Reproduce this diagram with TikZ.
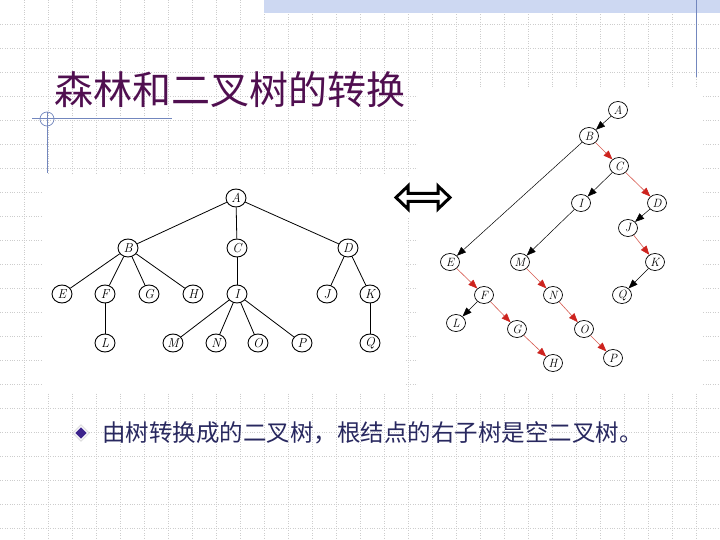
\documentclass[tikz,border=0pt]{standalone}
\usepackage{fontspec}
\newfontfamily\cjk{Noto Sans CJK SC}
\usetikzlibrary{arrows.meta,shapes.geometric}
\definecolor{gridc}{RGB}{205,205,205}
\definecolor{bandc}{RGB}{205,216,242}
\definecolor{decoc}{RGB}{115,135,190}
\definecolor{titlec}{RGB}{80,15,80}
\definecolor{textc}{RGB}{40,40,95}
\definecolor{redl}{RGB}{215,90,80}
\definecolor{redh}{RGB}{205,35,30}
\definecolor{bulc}{RGB}{60,35,140}
\tikzset{
  lnode/.style={draw, ellipse, minimum width=20pt, minimum height=18pt, inner sep=0pt, line width=0.9pt, fill=white, font=\fontsize{13}{13}\selectfont\itshape},
  rnode/.style={draw, ellipse, minimum width=19pt, minimum height=17pt, inner sep=0pt, line width=0.7pt, fill=white, font=\fontsize{12}{12}\selectfont\itshape},
  ledge/.style={line width=0.8pt},
  blk/.style={line width=0.5pt, -{Triangle[length=9pt,width=7pt]}},
  red/.style={draw=redl, line width=0.6pt, -{Triangle[length=9pt,width=7pt,fill=redh,color=redh]}},
  gridline/.style={gridc, line width=0.6pt, dash pattern=on 1pt off 1.4pt},
}
\begin{document}
\begin{tikzpicture}[x=1pt,y=-1pt]
\useasboundingbox (0,0) rectangle (720,540);
\fill[white] (0,0) rectangle (720,540);
% grid
\foreach \i in {24,48,...,696} {\draw[gridline] (\i,0) -- (\i,540);}
\foreach \j in {24,48,...,528} {\draw[gridline] (0,\j) -- (720,\j);}
% top band and decorations
\fill[bandc] (264,0) rectangle (720,13);
\draw[decoc, line width=1pt] (696,0) -- (696,77);
\draw[decoc, line width=1pt] (32,119) -- (172,119);
\draw[decoc, line width=1pt] (47,112) -- (47,173);
\draw[decoc, line width=0.7pt] (47,119) circle (7);
% white image areas
\fill[white] (43,174) rectangle (406,392);
\fill[white] (388,178) rectangle (458,218);
\fill[white] (418,88) rectangle (702,393);
% title
\node[anchor=west, text=titlec, inner sep=0pt, font=\cjk\fontsize{39}{39}\selectfont] (title) at (54,90) {森林和二叉树的转换};
% left forest/tree
\node[lnode] (A) at (236,198) {A};
\node[lnode] (B) at (128,248) {B};
\node[lnode] (C) at (237,248) {C};
\node[lnode] (D) at (348,248) {D};
\node[lnode] (E) at (62,294) {E};
\node[lnode] (F) at (105,294) {F};
\node[lnode] (G) at (149,294) {G};
\node[lnode] (H) at (193,294) {H};
\node[lnode] (I) at (237,294) {I};
\node[lnode] (J) at (327,294) {J};
\node[lnode] (K) at (370,294) {K};
\node[lnode] (L) at (105,343) {L};
\node[lnode] (M) at (173,343) {M};
\node[lnode] (N) at (216,343) {N};
\node[lnode] (O) at (258,343) {O};
\node[lnode] (P) at (302,343) {P};
\node[lnode] (Q) at (370,343) {Q};
\foreach \a/\b in {A/B,A/C,A/D,B/E,B/F,B/G,B/H,C/I,D/J,D/K,F/L,I/M,I/N,I/O,I/P,K/Q}
  {\draw[ledge] (\a) -- (\b);}
% double arrow
\draw[line width=3pt, fill=white, line join=miter]
  (396,197.5) -- (408,186) -- (408,193.5) -- (438,193.5) -- (438,186) -- (450,197.5)
  -- (438,209) -- (438,201.5) -- (408,201.5) -- (408,209) -- cycle;
% right binary tree
\node[rnode] (rA) at (618,110) {A};
\node[rnode] (rB) at (589,136) {B};
\node[rnode] (rC) at (619,166) {C};
\node[rnode] (rI) at (581,203) {I};
\node[rnode] (rD) at (657,203) {D};
\node[rnode] (rJ) at (628,228) {J};
\node[rnode] (rE) at (450,262) {E};
\node[rnode] (rM) at (520,262) {M};
\node[rnode] (rK) at (655,262) {K};
\node[rnode] (rF) at (484,295) {F};
\node[rnode] (rN) at (553,295) {N};
\node[rnode] (rQ) at (622,295) {Q};
\node[rnode] (rL) at (456,323) {L};
\node[rnode] (rG) at (517,329) {G};
\node[rnode] (rO) at (584,329) {O};
\node[rnode] (rH) at (553,363) {H};
\node[rnode] (rP) at (613,358) {P};
\foreach \a/\b in {rA/rB,rB/rE,rC/rI,rI/rM,rD/rJ,rK/rQ,rF/rL}
  {\draw[blk] (\a) -- (\b);}
\foreach \a/\b in {rB/rC,rC/rD,rJ/rK,rE/rF,rF/rG,rG/rH,rM/rN,rN/rO,rO/rP}
  {\draw[red] (\a) -- (\b);}
% bullet
\node[draw=gray!50, fill=white, diamond, minimum width=17pt, minimum height=17pt, inner sep=0pt] (bul) at (81,433) {};
\node[draw=white, line width=0.8pt, fill=bulc, diamond, minimum width=13pt, minimum height=13pt, inner sep=0pt] (bulin) at (81,433) {};
\node[anchor=west, text=textc, inner sep=0pt, font=\cjk\fontsize{23.5}{23.5}\selectfont] (txt) at (102,433) {由树转换成的二叉树，根结点的右子树是空二叉树。};
\end{tikzpicture}
\end{document}
